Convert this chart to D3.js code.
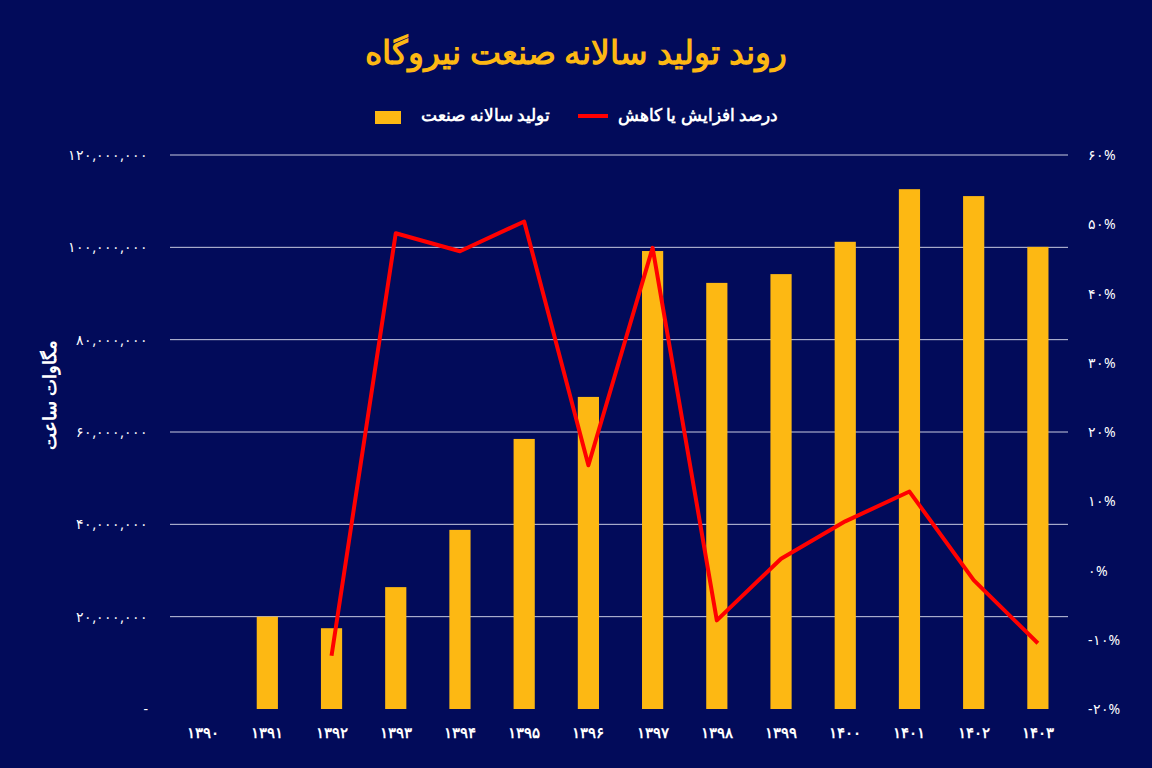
<!DOCTYPE html>
<html><head><meta charset="utf-8">
<script src="https://cdn.jsdelivr.net/npm/d3@7"></script>
<style>body{margin:0;background:#020b5a;}svg{display:block;font-family:"Noto Sans",sans-serif;}</style>
</head><body>
<script>
var years = ["1390","1391","1392","1393","1394","1395","1396","1397","1398","1399","1400","1401","1402","1403"];
var production = [0,20000000,17500000,26400000,38800000,58500000,67600000,99200000,92300000,94200000,101200000,112600000,111100000,100100000];
var change = [null,null,-12.3,48.7,46.1,50.4,15.2,46.6,-7.2,1.7,7.1,11.4,-1.4,-10.5];
var leftTicks = [0,20000000,40000000,60000000,80000000,100000000,120000000];
var rightTicks = [-20,-10,0,10,20,30,40,50,60];

function fa(s){ return String(s).replace(/\d/g, function(d){ return "۰۱۲۳۴۵۶۷۸۹"[d]; }); }

var W = 1152, H = 768, gold = "#fdb813";
var svg = d3.select("body").append("svg").attr("width", W).attr("height", H);
svg.append("rect").attr("width", W).attr("height", H).attr("fill", "#020b5a");

var x = d3.scaleBand().domain(years).range([171, 1070]).paddingInner(0.67).paddingOuter(0.335);
var yL = d3.scaleLinear().domain([0, 120000000]).range([709, 155]);
var yR = d3.scaleLinear().domain([-20, 60]).range([709, 155]);

svg.selectAll("line.grid").data(leftTicks.slice(1)).enter().append("line")
  .attr("x1", 170).attr("x2", 1068)
  .attr("y1", d => yL(d)).attr("y2", d => yL(d))
  .attr("stroke", "#c8cbe0").attr("stroke-width", 1);

svg.selectAll("text.yl").data(leftTicks).enter().append("text")
  .attr("x", 148).attr("y", d => yL(d) + 5).attr("text-anchor", "end")
  .attr("fill", "#fff").attr("font-size", 14)
  .text(d => d === 0 ? "-" : fa(d3.format(",")(d)));

svg.selectAll("text.yr").data(rightTicks).enter().append("text")
  .attr("x", 1088).attr("y", d => yR(d) + 5).attr("text-anchor", "start")
  .attr("fill", "#fff").attr("font-size", 14)
  .text(d => (d < 0 ? "-" : "") + fa(Math.abs(d)) + "%");

svg.selectAll("text.xl").data(years).enter().append("text")
  .attr("x", d => x(d) + x.bandwidth() / 2).attr("y", 738).attr("text-anchor", "middle")
  .attr("fill", "#fff").attr("font-size", 15).attr("font-weight", "bold")
  .text(d => fa(d));

svg.selectAll("rect.bar").data(years).enter().append("rect")
  .attr("x", d => x(d)).attr("width", x.bandwidth())
  .attr("y", (d, i) => yL(production[i])).attr("height", (d, i) => yL(0) - yL(production[i]))
  .attr("fill", gold);

var pts = years.map((d, i) => [d, change[i]]).filter(p => p[1] !== null);
svg.append("path").datum(pts)
  .attr("d", d3.line().x(p => x(p[0]) + x.bandwidth() / 2).y(p => yR(p[1])))
  .attr("fill", "none").attr("stroke", "#ff0000").attr("stroke-width", 4).attr("stroke-linejoin", "round");

svg.append("text").attr("x", 576).attr("y", 64).attr("text-anchor", "middle")
  .attr("fill", gold).attr("font-size", 33).attr("font-weight", "bold")
  .text("روند تولید سالانه صنعت نیروگاه");

// legend
svg.append("line").attr("x1", 578).attr("x2", 608).attr("y1", 116).attr("y2", 116)
  .attr("stroke", "#ff0000").attr("stroke-width", 4);
svg.append("text").attr("x", 778).attr("y", 121).attr("text-anchor", "end")
  .attr("fill", "#fff").attr("font-size", 17).attr("font-weight", "bold").text("درصد افزایش یا کاهش");
svg.append("rect").attr("x", 375).attr("y", 111).attr("width", 26).attr("height", 13).attr("fill", gold);
svg.append("text").attr("x", 550).attr("y", 121).attr("text-anchor", "end")
  .attr("fill", "#fff").attr("font-size", 17).attr("font-weight", "bold").text("تولید سالانه صنعت");

svg.append("text").attr("transform", "translate(56,395) rotate(-90)").attr("text-anchor", "middle")
  .attr("fill", "#fff").attr("font-size", 18).attr("font-weight", "bold").text("مگاوات ساعت");
</script>
</body></html>
